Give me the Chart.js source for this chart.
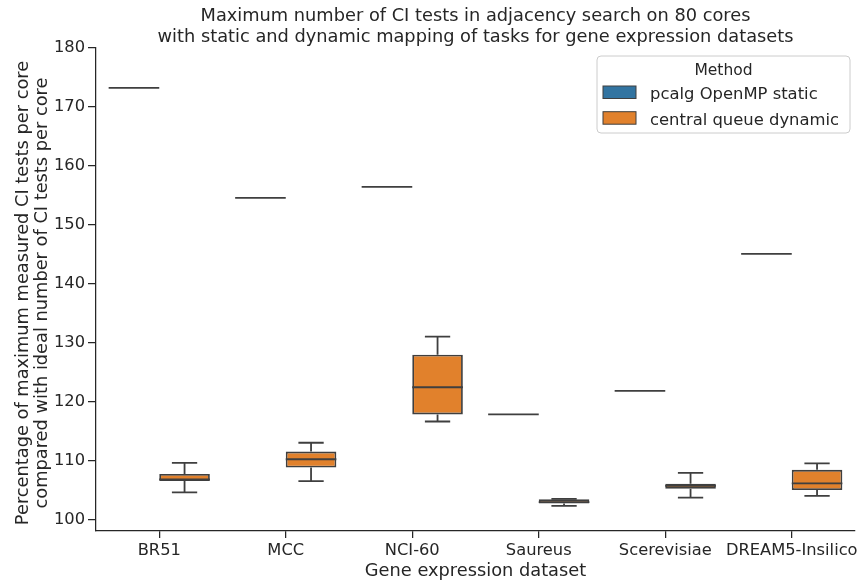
<!DOCTYPE html>
<html>
<head>
<meta charset="utf-8">
<script src="https://cdn.jsdelivr.net/npm/chart.js@4.4.1/dist/chart.umd.min.js"></script>
<style>
  body { margin: 0; background: #fff; }
</style>
</head>
<body>
<canvas id="boxChart" width="862" height="582"></canvas>
<script>
// values
const categories = ['BR51', 'MCC', 'NCI-60', 'Saureus', 'Scerevisiae', 'DREAM5-Insilico'];
const methods = ['pcalg OpenMP static', 'central queue dynamic'];
const staticValues = [173.25, 154.6, 156.45, 117.9, 121.9, 145.1];
const dynamicMin = [104.7, 106.6, 116.7, 102.4, 103.8, 104.1];
const dynamicQ1 = [106.6, 108.9, 117.9, 102.8, 105.3, 105.1];
const dynamicMedian = [106.9, 110.3, 122.5, 103.05, 105.8, 106.2];
const dynamicQ3 = [107.8, 111.6, 128.0, 103.5, 106.15, 108.5];
const dynamicMax = [109.7, 113.1, 131.1, 103.6, 108.0, 109.6];
const yTicks = [100, 110, 120, 130, 140, 150, 160, 170, 180];

const textColor = '#262626';
const edgeColor = '#3f3f3f';
const colors = ['#3274a1', '#e1812c'];
const fontFamily = 'DejaVu Sans';

function statsFor(d, i) {
    if (d === 0) {
        const v = staticValues[i];
        return { lo: v, q1: v, med: v, q3: v, hi: v };
    }
    return { lo: dynamicMin[i], q1: dynamicQ1[i], med: dynamicMedian[i], q3: dynamicQ3[i], hi: dynamicMax[i] };
}

// whiskers, caps and medians on top of the floating bars
const boxPlugin = {
    id: 'boxWhiskers',
    afterDatasetsDraw(chart) {
        const ctx = chart.ctx;
        const y = chart.scales.y;
        ctx.save();
        ctx.strokeStyle = edgeColor;
        ctx.lineWidth = 1.8;
        chart.data.datasets.forEach(function(ds, d) {
            chart.getDatasetMeta(d).data.forEach(function(bar, i) {
                const s = statsFor(d, i);
                const x = bar.x, half = bar.width / 2, cap = bar.width / 4;
                ctx.beginPath();
                ctx.moveTo(x, y.getPixelForValue(s.hi));
                ctx.lineTo(x, y.getPixelForValue(s.q3));
                ctx.moveTo(x, y.getPixelForValue(s.q1));
                ctx.lineTo(x, y.getPixelForValue(s.lo));
                ctx.moveTo(x - cap, y.getPixelForValue(s.hi));
                ctx.lineTo(x + cap, y.getPixelForValue(s.hi));
                ctx.moveTo(x - cap, y.getPixelForValue(s.lo));
                ctx.lineTo(x + cap, y.getPixelForValue(s.lo));
                ctx.moveTo(x - half, y.getPixelForValue(s.med));
                ctx.lineTo(x + half, y.getPixelForValue(s.med));
                ctx.stroke();
            });
        });
        ctx.restore();
    }
};

// title, axis labels and legend
const textPlugin = {
    id: 'texts',
    afterDraw(chart) {
        const ctx = chart.ctx;
        const area = chart.chartArea;
        const cx = (area.left + area.right) / 2;
        ctx.save();
        ctx.fillStyle = textColor;
        ctx.textAlign = 'center';
        ctx.textBaseline = 'alphabetic';
        ctx.font = '17.8px "' + fontFamily + '"';
        ctx.fillText('Maximum number of CI tests in adjacency search on 80 cores', cx, 21);
        ctx.fillText('with static and dynamic mapping of tasks for gene expression datasets', cx, 41.5);
        ctx.fillText('Gene expression dataset', cx, 575.5);

        ctx.save();
        ctx.translate(0, 293);
        ctx.rotate(-Math.PI / 2);
        ctx.fillText('Percentage of maximum measured CI tests per core', 0, 27.5);
        ctx.fillText('compared with ideal number of CI tests per core', 0, 47);
        ctx.restore();

        // legend box
        const lx = 597, ly = 56, lw = 253, lh = 77;
        ctx.beginPath();
        ctx.roundRect(lx, ly, lw, lh, 4);
        ctx.fillStyle = 'rgba(255,255,255,0.8)';
        ctx.fill();
        ctx.strokeStyle = '#cccccc';
        ctx.lineWidth = 1;
        ctx.stroke();
        ctx.fillStyle = textColor;
        ctx.font = '15.5px "' + fontFamily + '"';
        ctx.fillText('Method', lx + lw / 2, 75);
        ctx.font = '16.4px "' + fontFamily + '"';
        ctx.textAlign = 'left';
        methods.forEach(function(m, k) {
            const sy = 86 + k * 25.7;
            ctx.fillStyle = colors[k];
            ctx.fillRect(603, sy, 33, 12.5);
            ctx.strokeStyle = edgeColor;
            ctx.lineWidth = 1;
            ctx.strokeRect(603, sy, 33, 12.5);
            ctx.fillStyle = textColor;
            ctx.fillText(m, 650, sy + 12.8);
        });
        ctx.restore();
    }
};

const ctx = document.getElementById('boxChart').getContext('2d');
new Chart(ctx, {
    type: 'bar',
    data: {
        labels: categories,
        datasets: [{
            label: methods[0],
            data: staticValues.map(function(v) { return [v, v]; }),
            backgroundColor: colors[0],
            borderWidth: 0
        }, {
            label: methods[1],
            data: dynamicQ1.map(function(q, i) { return [q, dynamicQ3[i]]; }),
            backgroundColor: colors[1],
            borderColor: edgeColor,
            borderWidth: 1.8,
            borderSkipped: false
        }]
    },
    options: {
        responsive: false,
        animation: false,
        layout: { padding: { left: 0, right: 7, top: 48, bottom: 0 } },
        datasets: { bar: { categoryPercentage: 0.8, barPercentage: 1.0 } },
        plugins: {
            legend: { display: false },
            title: { display: false },
            tooltip: { enabled: false }
        },
        scales: {
            x: {
                offset: true,
                grid: { display: true, offset: false, drawOnChartArea: false, drawTicks: true, tickLength: 7, color: textColor, lineWidth: 1.25 },
                border: { display: true, color: textColor, width: 1.25 },
                ticks: { color: textColor, padding: 3, maxRotation: 0, minRotation: 0, autoSkip: false, font: { family: fontFamily, size: 16.3 } },
                afterFit: function(scale) { scale.height = 51; }
            },
            y: {
                min: 98.14,
                max: 180,
                afterBuildTicks: function(scale) {
                    scale.ticks = yTicks.map(function(v) { return { value: v }; });
                },
                grid: { display: true, drawOnChartArea: false, drawTicks: true, tickLength: 8, color: textColor, lineWidth: 1.25 },
                border: { display: true, color: textColor, width: 1.25 },
                ticks: { color: textColor, padding: 3, font: { family: fontFamily, size: 16.3 } },
                afterFit: function(scale) { scale.width = 96; }
            }
        }
    },
    plugins: [boxPlugin, textPlugin]
});
</script>
</body>
</html>
